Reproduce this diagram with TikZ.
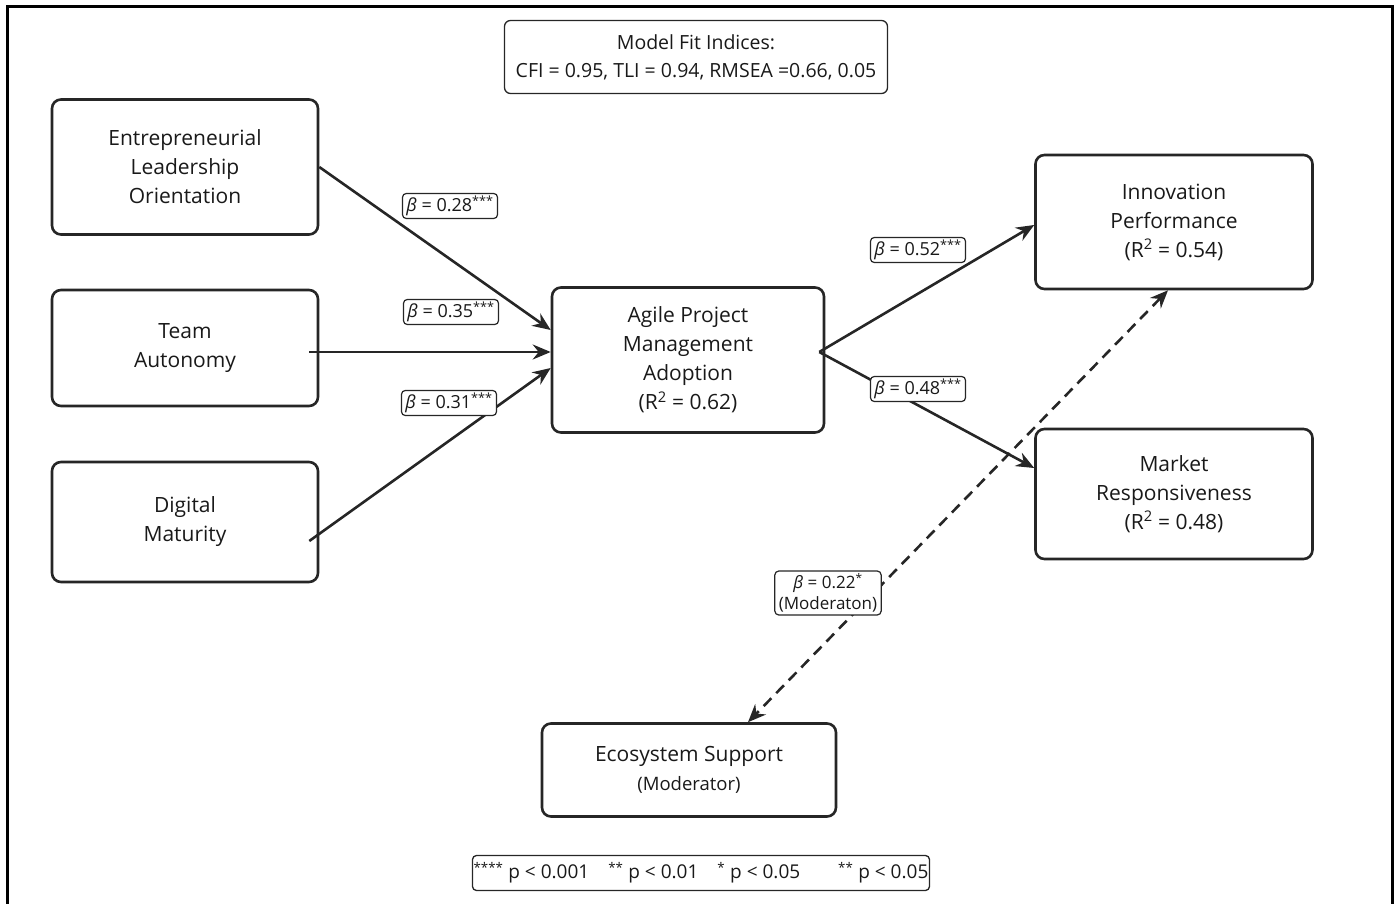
\documentclass[tikz,border=0pt]{standalone}
\usepackage{fontspec}
\setmainfont{Open Sans}
\usetikzlibrary{arrows.meta}

\newcommand{\bcoef}{\textit{β}}

\begin{document}
\begin{tikzpicture}[x=1pt, y=-1pt, >={Stealth[length=18pt, width=15pt, inset=6pt]},
    box/.style={draw=black!85, line width=2.6pt, rounded corners=9pt, align=center,
        inner sep=0pt, text=black!90, font=\fontsize{21}{29}\selectfont},
    coef/.style={draw=black!85, line width=1.2pt, rounded corners=4pt, fill=white,
        inner ysep=2.5pt, inner xsep=4pt, align=center, text=black!90, font=\fontsize{18}{21}\selectfont},
    link/.style={->, line width=2.6pt, draw=black!85}]
    \useasboundingbox (0,0) rectangle (1398,904);
    % Rahmen (unten offen)
    \draw[line width=3pt] (7,904) -- (7,7) -- (1392,7) -- (1392,904);

    % Fit-Indizes
    \node[box, line width=1.3pt, rounded corners=6pt, minimum width=383pt, minimum height=73pt,
        font=\fontsize{19.5}{28}\selectfont] (fit) at (696,57)
        {Model Fit Indices:\\CFI = 0.95, TLI = 0.94, RMSEA =0.66, 0.05};

    % Konstrukte links
    \node[box, minimum width=266pt, minimum height=135pt] (elo) at (185,167)
        {Entrepreneurial\\Leadership\\Orientation};
    \node[box, minimum width=266pt, minimum height=116pt] (ta) at (185,348)
        {Team\\Autonomy};
    \node[box, minimum width=266pt, minimum height=120pt] (dm) at (185,522)
        {Digital\\Maturity};

    % Mitte und rechts
    \node[box, minimum width=272pt, minimum height=145pt] (apm) at (688,360)
        {Agile Project\\Management\\Adoption\\(R\textsuperscript{2} = 0.62)};
    \node[box, minimum width=277pt, minimum height=134pt] (ip) at (1174,222)
        {Innovation\\Performance\\(R\textsuperscript{2} = 0.54)};
    \node[box, minimum width=277pt, minimum height=130pt] (mr) at (1174,494)
        {Market\\Responsiveness\\(R\textsuperscript{2} = 0.48)};
    \node[box, minimum width=294pt, minimum height=93pt] (es) at (689,770)
        {Ecosystem Support\\{\fontsize{18.5}{27}\selectfont(Moderator)}};

    % Pfade
    \draw[link] (elo.east) -- ([yshift=30pt]apm.west);
    \draw[link] ([xshift=-10pt, yshift=-4pt]ta.east) -- ([yshift=8pt]apm.west);
    \draw[link] ([xshift=-10pt, yshift=-19pt]dm.east) -- ([yshift=-8pt]apm.west);
    \draw[link] ([xshift=-6pt, yshift=8pt]apm.east) -- ([yshift=-3pt]ip.west);
    \draw[link] ([xshift=-6pt, yshift=8pt]apm.east) -- ([yshift=26pt]mr.west);
    \draw[link, <->, dashed, dash pattern=on 11pt off 7pt] ([xshift=-6pt]ip.south) -- ([xshift=59pt]es.north);

    % Koeffizienten
    \node[coef] (b1) at (450,206) {\bcoef{} = 0.28\textsuperscript{***}};
    \node[coef] (b2) at (451,312) {\bcoef{} = 0.35\textsuperscript{***}};
    \node[coef] (b3) at (449,403) {\bcoef{} = 0.31\textsuperscript{***}};
    \node[coef] (b4) at (918,250) {\bcoef{} = 0.52\textsuperscript{***}};
    \node[coef] (b5) at (918,389) {\bcoef{} = 0.48\textsuperscript{***}};
    \node[coef, font=\fontsize{17}{21}\selectfont] (b6) at (828,593)
        {\bcoef{} = 0.22\textsuperscript{*}\\(Moderaton)};

    % Legende
    \node[box, line width=1.3pt, rounded corners=4pt, minimum width=457pt, minimum height=35pt,
        font=\fontsize{19}{22}\selectfont] (legend) at (701,873)
        {\textsuperscript{****} p < 0.001\quad\textsuperscript{**} p < 0.01\quad\textsuperscript{*} p < 0.05\qquad\textsuperscript{**} p < 0.05};
\end{tikzpicture}
\end{document}
